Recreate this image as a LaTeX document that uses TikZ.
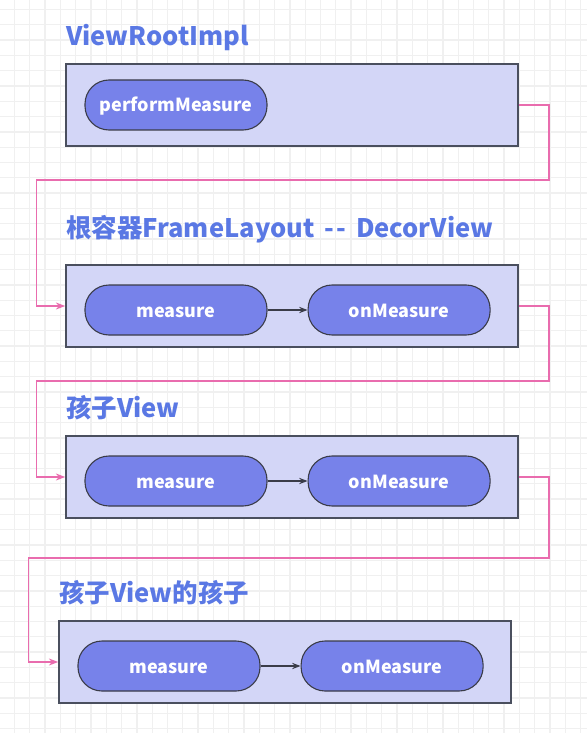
\documentclass[tikz,border=0pt]{standalone}
\usepackage{fontspec}
\setmainfont{Noto Sans CJK SC}
\usepackage{tikz}
\usetikzlibrary{arrows.meta}
\usetikzlibrary{positioning}

\definecolor{titleblue}{HTML}{5A78E4}
\definecolor{boxfill}{HTML}{D3D6F7}
\definecolor{boxline}{HTML}{4A4F5E}
\definecolor{pillfill}{HTML}{7782EA}
\definecolor{pillline}{HTML}{3A3C48}
\definecolor{linkpink}{HTML}{E96CAE}
\definecolor{gridgray}{HTML}{F0F0F0}

\begin{document}
\begin{tikzpicture}[x=1pt, y=-1pt, node distance=40pt, >=Stealth,
	title node/.style={anchor=west, inner sep=0pt, text=titleblue, font=\fontsize{25.5}{30}\selectfont\bfseries},
	frame node/.style={rectangle, draw=boxline, fill=boxfill, line width=1.6pt, minimum width=452pt, minimum height=82pt, inner sep=0pt},
	pill node/.style={rectangle, rounded corners=24pt, draw=pillline, fill=pillfill, line width=1.1pt, minimum width=182pt, minimum height=50pt, inner sep=0pt, text height=14pt, text depth=0pt, text=white, font=\fontsize{18}{21}\selectfont\bfseries},
	call/.style={->, draw=pillline, line width=1.2pt},
	link/.style={->, draw=linkpink, line width=1.4pt},
]
\useasboundingbox (0,0) rectangle (587,733);
\fill[white] (0,0) rectangle (587,733);
% background grid
\foreach \gx in {0,...,38} \draw[gridgray, line width=1.3pt] (14.5+15.3*\gx,0) -- (14.5+15.3*\gx,733);
\foreach \gy in {0,...,47} \draw[gridgray, line width=1.3pt] (0,9.5+15.3*\gy) -- (587,9.5+15.3*\gy);
%
\node [title node] (t1) at (66, 38) {ViewRootImpl};
\node [frame node] (vr) at (292, 105) {};
\node [pill node] (pm) at (176, 105) {performMeasure};
%
\node [title node] (t2) at (66, 229) {根容器FrameLayout \,{-}\kern2pt{-}\, DecorView};
\node [frame node] (dv) at (292, 306) {};
\node [pill node] (dvm) at (176, 310) {measure};
\node [pill node] (dvo) [right=of dvm] {onMeasure};
%
\node [title node] (t3) at (66, 408) {孩子View};
\node [frame node] (cv) at (292, 477) {};
\node [pill node] (cvm) at (176, 481) {measure};
\node [pill node] (cvo) [right=of cvm] {onMeasure};
%
\node [title node] (t4) at (59, 593) {孩子View的孩子};
\node [frame node] (gv) at (285, 662) {};
\node [pill node] (gvm) at (169, 666) {measure};
\node [pill node] (gvo) [right=of gvm] {onMeasure};
%
\draw [call] (dvm) -- (dvo);
\draw [call] (cvm) -- (cvo);
\draw [call] (gvm) -- (gvo);
%
\draw [link] (vr.east) -- ++(30,0) -- ++(0,75) -| ([xshift=-29pt]dv.west) -- (dv.west);
\draw [link] (dv.east) -- ++(30,0) -- ++(0,75) -| ([xshift=-29pt]cv.west) -- (cv.west);
\draw [link] (cv.east) -- ++(30,0) -- ++(0,81) -| ([xshift=-30pt]gv.west) -- (gv.west);
\end{tikzpicture}
\end{document}
